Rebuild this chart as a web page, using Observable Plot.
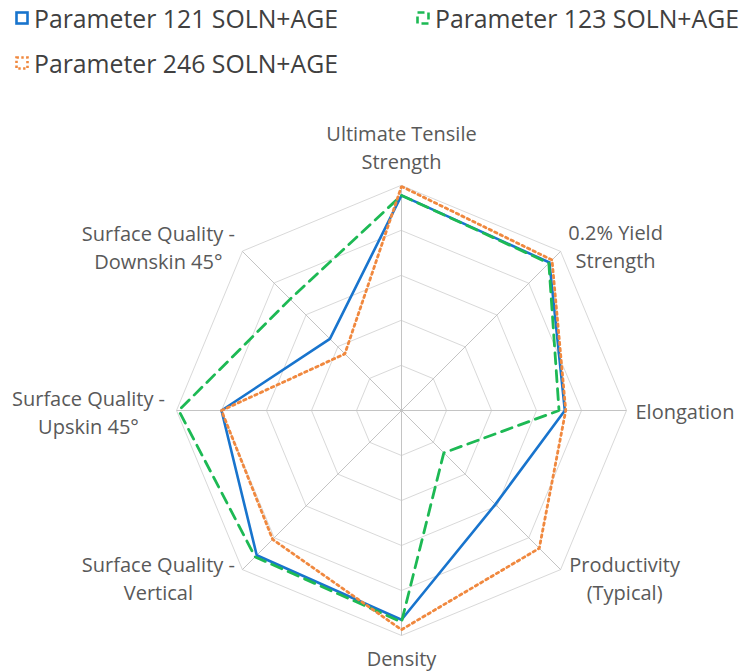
<!DOCTYPE html>
<html>
<head>
<meta charset="utf-8">
<script src="https://cdn.jsdelivr.net/npm/d3@7"></script>
<script src="https://cdn.jsdelivr.net/npm/@observablehq/plot@0.6"></script>
<style>
  html, body { margin: 0; padding: 0; background: #fff; }
  body { width: 741px; height: 671px; overflow: hidden; font-family: "Open Sans", sans-serif; }
  #legend { position: relative; width: 741px; height: 85px; }
  .item { position: absolute; display: flex; align-items: center; font-size: 24.8px; color: #404040; white-space: nowrap; }
  .item svg { margin-right: 5px; }
  #chart svg { display: block; }
</style>
</head>
<body>
<div id="legend"></div>
<div id="chart"></div>
<script>
// ---- data ----
const categories = [
  "Ultimate Tensile\nStrength",
  "0.2% Yield\nStrength",
  "Elongation",
  "Productivity\n(Typical)",
  "Density",
  "Surface Quality -\nVertical",
  "Surface Quality -\nUpskin 45°",
  "Surface Quality -\nDownskin 45°"
];
const seriesNames = ["Parameter 121 SOLN+AGE", "Parameter 123 SOLN+AGE", "Parameter 246 SOLN+AGE"];
const param121 = [4.78, 4.65, 3.63, 2.95, 4.65, 4.55, 4.00, 2.25];
const param123 = [4.78, 4.63, 3.50, 1.33, 4.70, 4.60, 4.95, 3.50];
const param246 = [4.98, 4.73, 3.65, 4.33, 4.87, 4.05, 4.00, 1.78];
const ringLevels = [1, 2, 3, 4, 5];
const maxValue = 5;

// ---- styles ----
const colors = ["#1874CD", "#1DB954", "#F0883E"];
const seriesStyle = [
  {stroke: colors[0], strokeWidth: 2.6},
  {stroke: colors[1], strokeWidth: 2.8, strokeDasharray: "11,7"},
  {stroke: colors[2], strokeWidth: 2.8, strokeDasharray: "2.5,3.6"}
];
// label placement relative to outer vertex: [dx, dy, textAnchor]
const labelPlace = [
  [0, -39, "middle"],
  [55, -6, "middle"],
  [9, 0, "start"],
  [64, 7, "middle"],
  [0, 22, "middle"],
  [-84, 7, "middle"],
  [-88, 1, "middle"],
  [-84, -5, "middle"]
];

const n = categories.length;
const ang = i => (i * 2 * Math.PI) / n;
const pt = (v, i, extra) => ({x: (v / maxValue) * Math.sin(ang(i)), y: (v / maxValue) * Math.cos(ang(i)), ...extra});

const rings = ringLevels.flatMap(l => categories.map((c, i) => pt(l, i, {level: l})));
const spokes = categories.map((c, i) => pt(maxValue, i, {label: c, i}));
const allSeries = [param121, param123, param246];

const marks = [
  Plot.line(rings, {x: "x", y: "y", z: "level", curve: "linear-closed", stroke: "#d9d9d9", strokeWidth: 1}),
  Plot.link(spokes, {x1: () => 0, y1: () => 0, x2: "x", y2: "y", stroke: "#c4c4c4", strokeWidth: 1})
];
allSeries.forEach((vals, s) => {
  const d = vals.map((v, i) => pt(v, i));
  marks.push(Plot.line(d, {x: "x", y: "y", curve: "linear-closed", fill: "none", strokeLinejoin: "miter", ...seriesStyle[s]}));
});
spokes.forEach((sp, i) => {
  const [dx, dy, anchor] = labelPlace[i];
  marks.push(Plot.text([sp], {x: "x", y: "y", text: "label", dx, dy, textAnchor: anchor, lineAnchor: "middle", lineHeight: 1.4, fontSize: 20, fill: "#595959"}));
});

const chart = Plot.plot({
  width: 741,
  height: 586,
  margin: 0,
  x: {domain: [-1, 1], range: [176, 626], axis: null},
  y: {domain: [-1, 1], range: [550, 100], axis: null},
  style: {fontFamily: "'Open Sans', sans-serif", background: "#fff"},
  marks
});
document.getElementById("chart").appendChild(chart);

// ---- legend ----
const legendPos = [[15, 18], [416, 18], [15, 63]];
const legend = document.getElementById("legend");
seriesNames.forEach((name, s) => {
  const div = document.createElement("div");
  div.className = "item";
  div.style.left = legendPos[s][0] + "px";
  div.style.top = (legendPos[s][1] - 16) + "px";
  div.style.height = "32px";
  const st = seriesStyle[s];
  div.innerHTML = `<svg width="14" height="14"><rect x="1.5" y="1.5" width="11" height="11" fill="none" stroke="${st.stroke}" stroke-width="2.6" ${st.strokeDasharray ? `stroke-dasharray="${s === 1 ? '7,4' : '2.4,2.4'}"` : ""}/></svg><span>${name}</span>`;
  legend.appendChild(div);
});
</script>
</body>
</html>
